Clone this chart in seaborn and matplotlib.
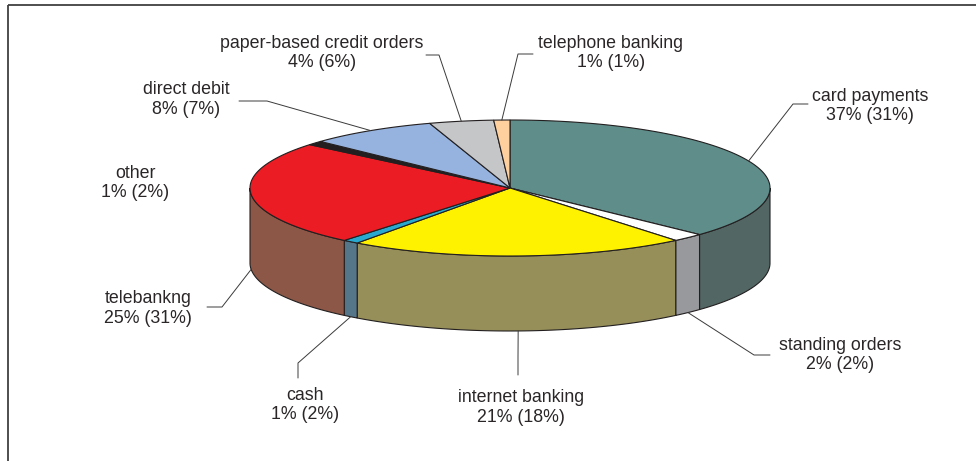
import numpy as np
import pandas as pd
import matplotlib
matplotlib.use("Agg")
import matplotlib.pyplot as plt
from matplotlib.patches import Polygon
import seaborn as sns

# Payment instruments: share of transactions, previous year's share in brackets
categories = ["card payments", "standing orders", "internet banking", "cash",
              "telebankng", "other", "direct debit",
              "paper-based credit orders", "telephone banking"]
share_now = [37, 2, 21, 1, 25, 1, 8, 4, 1]
share_prev = [31, 2, 18, 2, 31, 2, 7, 6, 1]

top_colors = ["#5f8e8a", "#ffffff", "#fff200", "#29a8d0", "#ec1c24",
              "#231f20", "#95b3de", "#c5c6c8", "#fdd09e"]
side_colors = ["#526663", "#98999c", "#968f59", "#557589", "#8c5746",
               "#231f20", "#6a7f9e", "#8e8f91", "#c9a57e"]

df = pd.DataFrame({"category": categories, "now": share_now, "prev": share_prev,
                   "top": top_colors, "side": side_colors})

sns.set_theme(style="white")
plt.rcParams["font.family"] = ["Liberation Sans", "DejaVu Sans"]

W, H = 976, 461
fig = plt.figure(figsize=(W / 100, H / 100), dpi=100)
ax = fig.add_axes([0, 0, 1, 1])
ax.set_xlim(0, W)
ax.set_ylim(H, 0)
ax.axis("off")

# pie geometry (pixel space, y downwards)
cx, cy, rx, ry, depth = 510, 188, 260, 68, 75
edge = "#231f20"


def pt(theta_deg, dy=0.0):
    t = np.radians(theta_deg)
    return cx + rx * np.cos(t), cy - ry * np.sin(t) + dy


# slice angles, clockwise from 12 o'clock
total = df["now"].sum()
spans = df["now"] / total * 360.0
starts = 90.0 - np.concatenate([[0.0], np.cumsum(spans)[:-1]])
ends = starts - spans

# outer walls (only the front half of the cylinder shows)
for s, e, col in zip(starts, ends, df["side"]):
    for k in (0, -360, 360):
        lo, hi = max(e, -180 + k), min(s, 0 + k)
        if hi - lo <= 0:
            continue
        th = np.linspace(hi, lo, 80)
        upper = [pt(t) for t in th]
        lower = [pt(t, depth) for t in th[::-1]]
        ax.add_patch(Polygon(upper + lower, closed=True, facecolor=col,
                             edgecolor=edge, linewidth=0.8, zorder=2))

# top faces
for s, e, col in zip(starts, ends, df["top"]):
    n = max(int(abs(s - e) * 2), 4)
    th = np.linspace(s, e, n)
    verts = [(cx, cy)] + [pt(t) for t in th]
    ax.add_patch(Polygon(verts, closed=True, facecolor=col,
                         edgecolor=edge, linewidth=0.8, zorder=3))

# labels and leader lines
label_pos = {
    "card payments": (870, 106),
    "standing orders": (840, 355),
    "internet banking": (521, 407.5),
    "cash": (305, 405),
    "telebankng": (148, 308.5),
    "other": (135, 183),
    "direct debit": (186, 99.5),
    "paper-based credit orders": (322, 53),
    "telephone banking": (611, 53),
}
leader_stub = {
    "card payments": [(808, 104), (793, 104)],
    "standing orders": [(770, 355), (754, 355)],
    "internet banking": [(518, 375), (518, 357)],
    "cash": [(298, 378), (298, 363)],
    "telebankng": [(207, 307), (222, 307)],
    "direct debit": [(239, 101), (267, 101)],
    "paper-based credit orders": [(426, 55), (439, 55)],
    "telephone banking": [(533, 54), (518, 54)],
}

text_col = "#2a2627"
for (_, row), s, e in zip(df.iterrows(), starts, ends):
    name = row["category"]
    x, y = label_pos[name]
    ax.text(x, y, f"{name}\n{row['now']}% ({row['prev']}%)", ha="center",
            va="center", fontsize=12.8, color=text_col, linespacing=1.22,
            zorder=5)
    if name in leader_stub:
        mid = (s + e) / 2.0
        front = np.sin(np.radians(mid)) < 0
        anchor = pt(mid, depth if front else 0)
        pts = leader_stub[name] + [anchor]
        xs, ys = zip(*pts)
        ax.plot(xs, ys, color="#3a3a3a", linewidth=0.7, zorder=4)

# frame
ax.plot([8, W], [5, 5], color="#404040", linewidth=1.3, zorder=6,
        solid_capstyle="butt")
ax.plot([8, 8], [5, H], color="#404040", linewidth=1.3, zorder=6,
        solid_capstyle="butt")

fig.savefig("out.png", dpi=100)
